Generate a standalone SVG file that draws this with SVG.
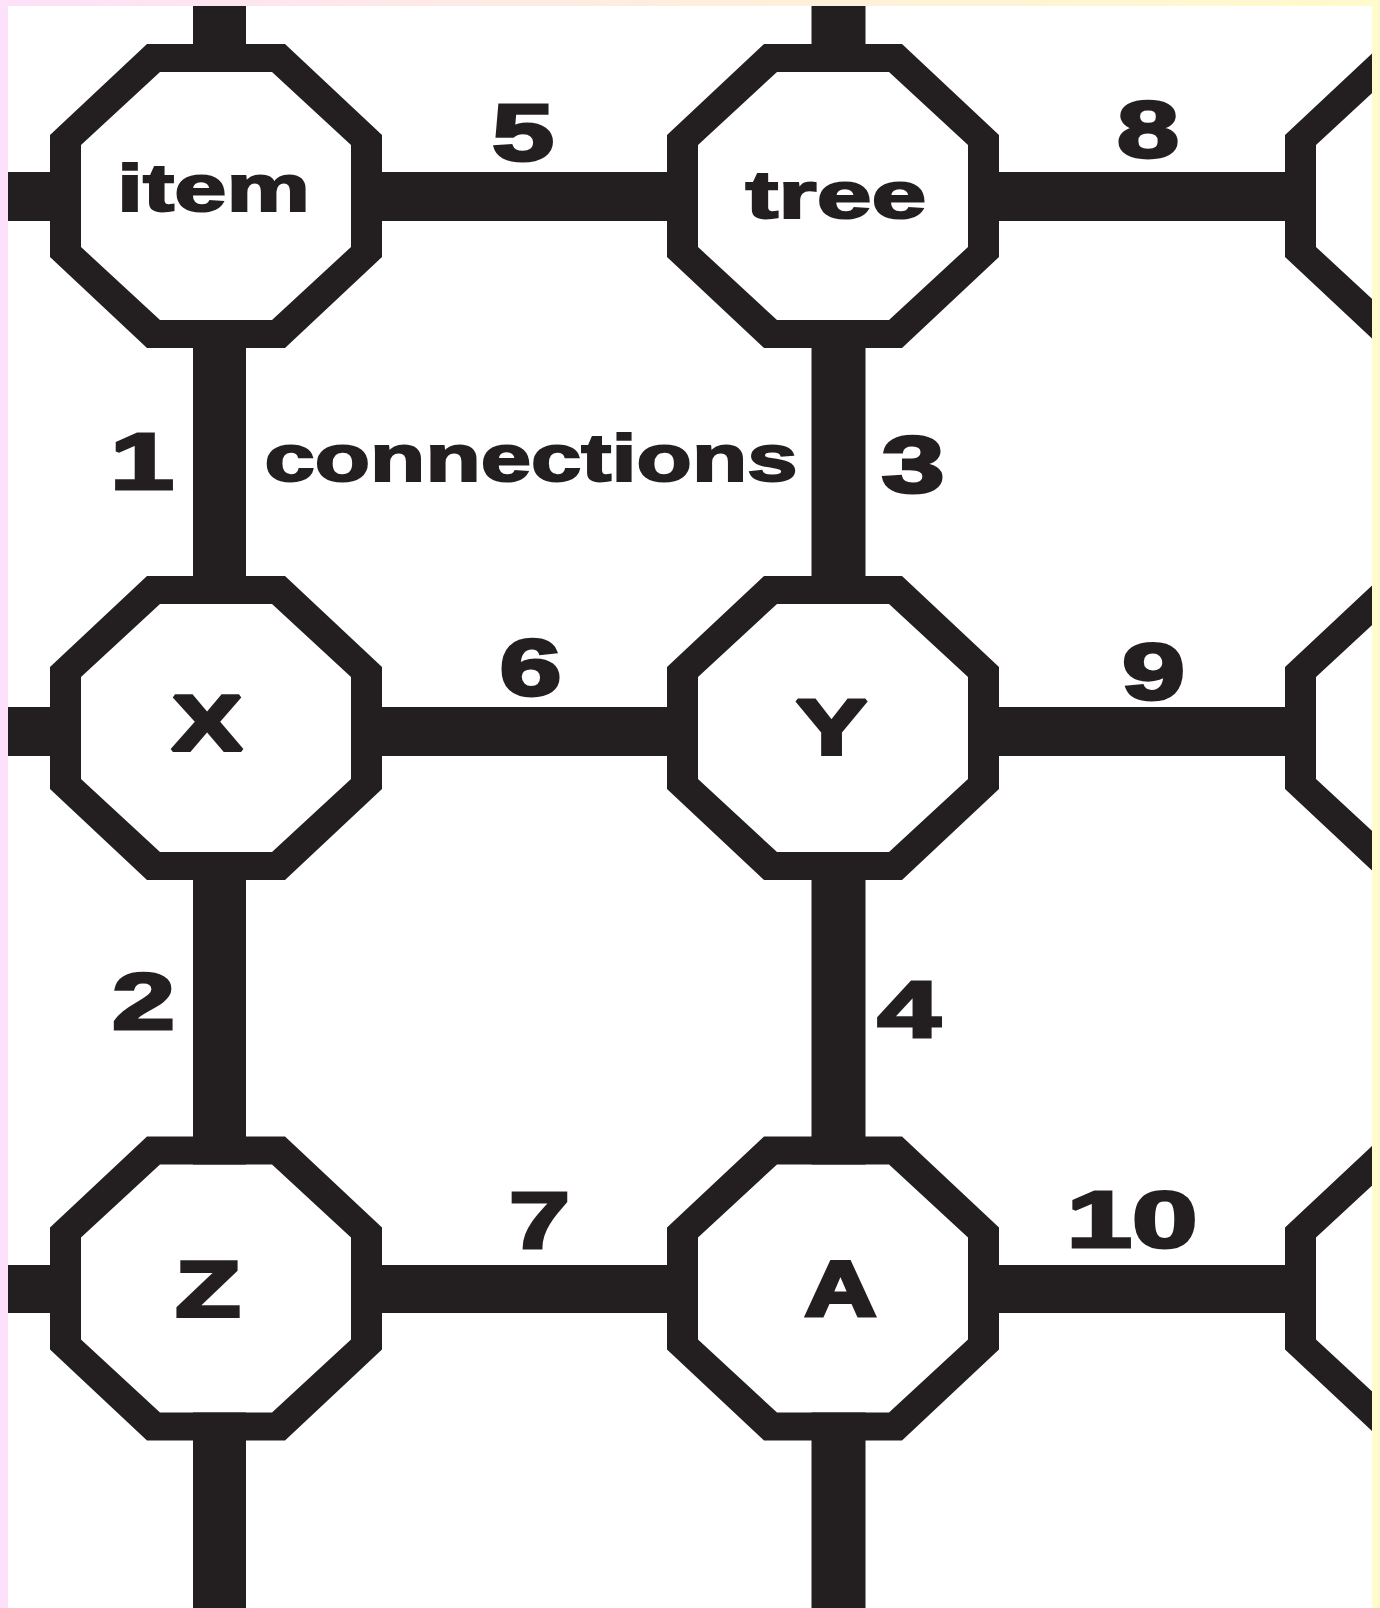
<svg xmlns="http://www.w3.org/2000/svg" xmlns:xlink="http://www.w3.org/1999/xlink" width="1380" height="1608" viewBox="0 0 1380 1608">
  <style>
    .lbl { font-family: "Liberation Sans", Arial, sans-serif; font-weight: bold; fill: #231f20; stroke: #231f20; stroke-linejoin: miter; stroke-miterlimit: 2; text-anchor: middle; }
    .word { font-size: 67px; stroke-width: 2; }
    .num { font-size: 80px; stroke-width: 3; }
    .cap { font-size: 77px; stroke-width: 4; }
    .hconn { fill: #231f20; }
  </style>
  <defs>
    <linearGradient id="topband" x1="0" y1="0" x2="1" y2="0">
      <stop offset="0" stop-color="#fde1f8"/>
      <stop offset="0.5" stop-color="#feeedd"/>
      <stop offset="1" stop-color="#fffbcc"/>
    </linearGradient>
    <g id="oct">
      <path d="M-56,-124 H56 L135,-51 V51 L56,124 H-56 L-135,51 V-51 Z" fill="#ffffff"/>
      <path fill="#231f20" fill-rule="evenodd" d="M-69,-152 H69 L166,-61 V61 L69,152 H-69 L-166,61 V-61 Z M-56,-124 L-135,-51 V51 L-56,124 H56 L135,51 V-51 L56,-124 Z"/>
    </g>
  </defs>

  <rect x="0" y="0" width="1380" height="1608" fill="#ffffff"/>

  <g id="connectors">
    <!-- vertical connectors -->
    <rect class="hconn" x="193" y="0" width="53" height="1608"/>
    <rect class="hconn" x="811.5" y="0" width="54" height="1608"/>
    <!-- horizontal connectors -->
    <rect class="hconn" x="0" y="172" width="1380" height="49"/>
    <rect class="hconn" x="0" y="707" width="1380" height="49"/>
    <rect class="hconn" x="0" y="1265" width="1380" height="48"/>
    <!-- connector labels -->
    <text class="lbl num" x="142" y="488.5" textLength="64" lengthAdjust="spacingAndGlyphs">1</text>
    <text class="lbl num" x="143.5" y="1028.5" textLength="63" lengthAdjust="spacingAndGlyphs">2</text>
    <text class="lbl num" x="913" y="491.5" textLength="63" lengthAdjust="spacingAndGlyphs">3</text>
    <text class="lbl num" x="909" y="1036.5" textLength="63" lengthAdjust="spacingAndGlyphs">4</text>
    <text class="lbl num" x="523" y="159.5" textLength="62" lengthAdjust="spacingAndGlyphs">5</text>
    <text class="lbl num" x="530.5" y="694.5" textLength="62" lengthAdjust="spacingAndGlyphs">6</text>
    <text class="lbl num" x="539.5" y="1247.5" textLength="61" lengthAdjust="spacingAndGlyphs">7</text>
    <text class="lbl num" x="1148" y="156.5" textLength="62" lengthAdjust="spacingAndGlyphs">8</text>
    <text class="lbl num" x="1153.5" y="698.5" textLength="63" lengthAdjust="spacingAndGlyphs">9</text>
    <text class="lbl num" x="1132" y="1246.5" textLength="131" lengthAdjust="spacingAndGlyphs">10</text>
    <text class="lbl word" x="531" y="481" textLength="533" lengthAdjust="spacingAndGlyphs">connections</text>
  </g>

  <g id="node-item">
    <use xlink:href="#oct" href="#oct" x="216" y="196"/>
    <text class="lbl word" x="213.5" y="211" textLength="193" lengthAdjust="spacingAndGlyphs">item</text>
  </g>
  <g id="node-tree">
    <use xlink:href="#oct" href="#oct" x="833" y="196"/>
    <text class="lbl word" x="836" y="218" textLength="181" lengthAdjust="spacingAndGlyphs">tree</text>
  </g>
  <g id="node-r1">
    <use xlink:href="#oct" href="#oct" x="1451" y="196"/>
  </g>
  <g id="node-X">
    <use xlink:href="#oct" href="#oct" x="216" y="728"/>
    <text class="lbl cap" x="207" y="750" textLength="70" lengthAdjust="spacingAndGlyphs">X</text>
  </g>
  <g id="node-Y">
    <use xlink:href="#oct" href="#oct" x="833" y="728"/>
    <text class="lbl cap" x="831.5" y="754" textLength="71" lengthAdjust="spacingAndGlyphs">Y</text>
  </g>
  <g id="node-r2">
    <use xlink:href="#oct" href="#oct" x="1451" y="728"/>
  </g>
  <g id="node-Z">
    <use xlink:href="#oct" href="#oct" x="216" y="1288.5"/>
    <text class="lbl cap" x="208" y="1316" textLength="64" lengthAdjust="spacingAndGlyphs">Z</text>
  </g>
  <g id="node-A">
    <use xlink:href="#oct" href="#oct" x="833" y="1288.5"/>
    <text class="lbl cap" x="840.5" y="1316" textLength="71" lengthAdjust="spacingAndGlyphs">A</text>
  </g>
  <g id="node-r3">
    <use xlink:href="#oct" href="#oct" x="1451" y="1288.5"/>
  </g>

  <g id="border">
    <rect x="0" y="0" width="8" height="1608" fill="#fde1fa"/>
    <rect x="1372" y="0" width="8" height="1608" fill="#fffccc"/>
    <rect x="0" y="0" width="1380" height="6" fill="url(#topband)"/>
  </g>
</svg>
